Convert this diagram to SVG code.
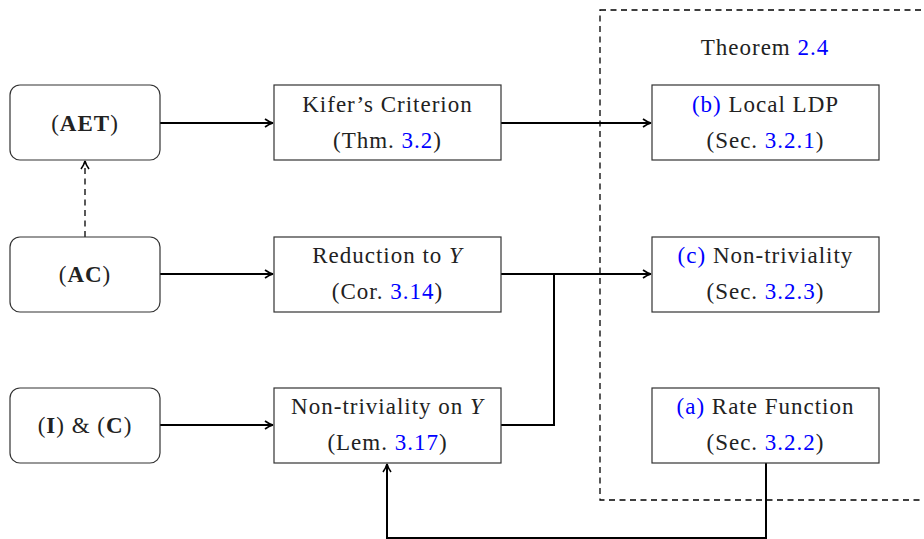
<svg xmlns="http://www.w3.org/2000/svg" width="924" height="539" viewBox="0 0 924 539">
<defs>
<marker id="ah" viewBox="0 0 10 10" refX="9" refY="5" markerWidth="10" markerHeight="10" markerUnits="userSpaceOnUse" orient="auto">
<path d="M1,1 Q5,4 9,5 Q5,6 1,9" fill="none" stroke="#000" stroke-width="1.6"/>
</marker>
</defs>
<style>
.box{fill:#fff;stroke:#333;stroke-width:1.2}
.t{font-family:"Liberation Serif","DejaVu Serif",serif;font-size:23px;letter-spacing:1px;fill:#222;text-anchor:middle}
.b{fill:#0000ff}
.c{fill:none;stroke:#000;stroke-width:2}
.d{fill:none;stroke:#000;stroke-width:1.3;stroke-dasharray:6,4.5}
</style>
<rect x="600" y="10" width="340" height="490" class="d"/>
<text class="t" x="765" y="55">Theorem <tspan class="b">2.4</tspan></text>
<g id="connectors">
<path class="c" d="M160,123 H273" marker-end="url(#ah)"/>
<path class="c" d="M501,123 H651" marker-end="url(#ah)"/>
<path class="d" d="M85,237 V161" marker-end="url(#ah)"/>
<path class="c" d="M160,274 H273" marker-end="url(#ah)"/>
<path class="c" d="M501,274 H651" marker-end="url(#ah)"/>
<path class="c" d="M501,425 H554 V274"/>
<path class="c" d="M160,425 H273" marker-end="url(#ah)"/>
<path class="c" d="M766,463 V538 H387 V464" marker-end="url(#ah)"/>
</g>
<g id="aet"><rect class="box" x="10" y="85" width="150" height="75" rx="10"/><text class="t" x="85" y="131">(<tspan font-weight="bold">AET</tspan>)</text></g>
<g id="ac"><rect class="box" x="10" y="237" width="150" height="75" rx="10"/><text class="t" x="85" y="282">(<tspan font-weight="bold">AC</tspan>)</text></g>
<g id="ic"><rect class="box" x="10" y="388" width="150" height="75" rx="10"/><text class="t" x="85" y="433">(<tspan font-weight="bold">I</tspan>) &amp; (<tspan font-weight="bold">C</tspan>)</text></g>
<g id="kifer"><rect class="box" x="274" y="85" width="227" height="75"/><text class="t" x="387.5" y="112">Kifer’s Criterion</text><text class="t" x="387.5" y="148">(Thm. <tspan class="b">3.2</tspan>)</text></g>
<g id="reduction"><rect class="box" x="274" y="237" width="227" height="75"/><text class="t" x="387.5" y="263">Reduction to <tspan font-style="italic">Y</tspan></text><text class="t" x="387.5" y="299">(Cor. <tspan class="b">3.14</tspan>)</text></g>
<g id="nontrivY"><rect class="box" x="274" y="388" width="227" height="75"/><text class="t" x="387.5" y="414">Non-triviality on <tspan font-style="italic">Y</tspan></text><text class="t" x="387.5" y="450">(Lem. <tspan class="b">3.17</tspan>)</text></g>
<g id="localldp"><rect class="box" x="652" y="85" width="227" height="75"/><text class="t" x="765.5" y="112"><tspan class="b">(b)</tspan> Local LDP</text><text class="t" x="765.5" y="148">(Sec. <tspan class="b">3.2.1</tspan>)</text></g>
<g id="nontriv"><rect class="box" x="652" y="237" width="227" height="75"/><text class="t" x="765.5" y="263"><tspan class="b">(c)</tspan> Non-triviality</text><text class="t" x="765.5" y="299">(Sec. <tspan class="b">3.2.3</tspan>)</text></g>
<g id="rate"><rect class="box" x="652" y="388" width="227" height="75"/><text class="t" x="765.5" y="414"><tspan class="b">(a)</tspan> Rate Function</text><text class="t" x="765.5" y="450">(Sec. <tspan class="b">3.2.2</tspan>)</text></g>
</svg>
